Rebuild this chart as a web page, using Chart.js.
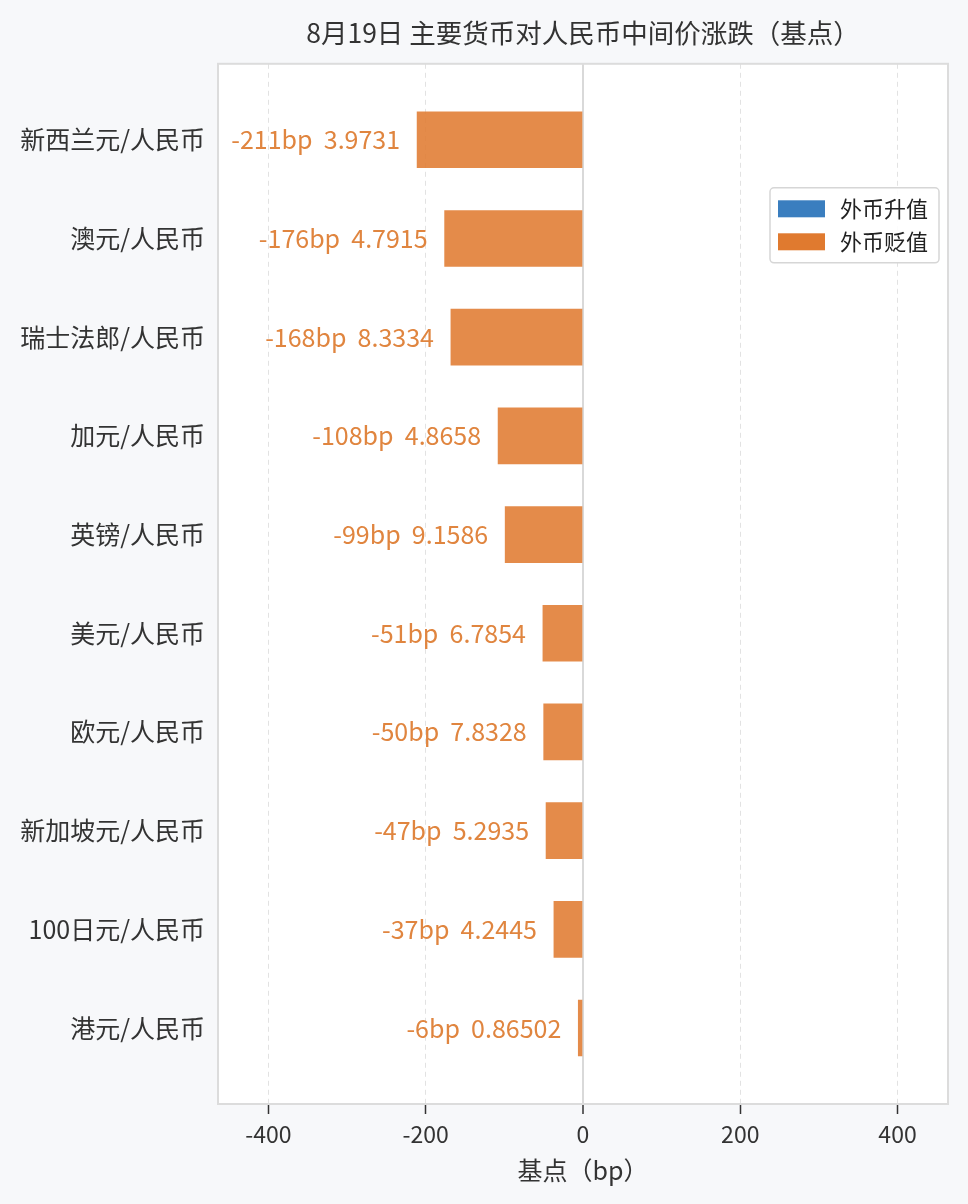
<!DOCTYPE html>
<html>
<head>
<meta charset="utf-8">
<script src="https://cdn.jsdelivr.net/npm/chart.js@4.4.0/dist/chart.umd.min.js"></script>
<style>
  html, body { margin: 0; padding: 0; background: #f7f8fa; }
  #wrap { width: 968px; height: 1204px; }
</style>
</head>
<body>
<div id="wrap"><canvas id="grafico"></canvas></div>
<script>
// 数据
const categorias = ['新西兰元/人民币', '澳元/人民币', '瑞士法郎/人民币', '加元/人民币', '英镑/人民币',
  '美元/人民币', '欧元/人民币', '新加坡元/人民币', '100日元/人民币', '港元/人民币'];
const variacoes = [-211, -176, -168, -108, -99, -51, -50, -47, -37, -6];
const taxas = ['3.9731', '4.7915', '8.3334', '4.8658', '9.1586', '6.7854', '7.8328', '5.2935', '4.2445', '0.86502'];
const ticksX = [-400, -200, 0, 200, 400];

const FONTE = '"Noto Sans CJK SC", "Noto Sans", sans-serif';
const corAzul = '#3a7ebf';
const corLaranja = '#e07a2f';

const subida = variacoes.map((v, i) => ({ x: v, y: i })).filter(p => p.x > 0);
const descida = variacoes.map((v, i) => ({ x: v, y: i })).filter(p => p.x <= 0);
const limite = Math.max(...variacoes.map(Math.abs)) * 2.2;

const fundo = {
  id: 'fundo',
  beforeDraw(chart) {
    const { ctx, chartArea: a } = chart;
    ctx.save();
    ctx.fillStyle = '#f7f8fa';
    ctx.fillRect(0, 0, chart.width, chart.height);
    ctx.fillStyle = '#ffffff';
    ctx.fillRect(a.left, a.top, a.right - a.left, a.bottom - a.top);
    ctx.restore();
  },
  afterDraw(chart) {
    const { ctx, chartArea: a } = chart;
    ctx.save();
    ctx.strokeStyle = '#dcdcdc';
    ctx.lineWidth = 2;
    ctx.strokeRect(a.left, a.top, a.right - a.left, a.bottom - a.top);
    ctx.restore();
  }
};

const rotulos = {
  id: 'rotulos',
  afterDatasetsDraw(chart) {
    const { ctx } = chart;
    ctx.save();
    ctx.font = '25px ' + FONTE;
    ctx.fillStyle = '#e0853f';
    ctx.textBaseline = 'middle';
    chart.data.datasets.forEach((ds, d) => {
      chart.getDatasetMeta(d).data.forEach((bar, j) => {
        const p = ds.data[j];
        const txt = p.x + 'bp  ' + taxas[p.y];
        if (p.x < 0) {
          ctx.textAlign = 'right';
          ctx.fillText(txt, bar.x - 17, bar.y);
        } else {
          ctx.textAlign = 'left';
          ctx.fillText(txt, bar.x + 17, bar.y);
        }
      });
    });
    ctx.restore();
  }
};

const legenda = {
  id: 'legenda',
  afterDraw(chart) {
    const { ctx, chartArea: a } = chart;
    const w = 169, h = 75;
    const x0 = a.right - 9 - w, y0 = a.top + 124;
    ctx.save();
    ctx.beginPath();
    ctx.roundRect(x0, y0, w, h, 4);
    ctx.fillStyle = 'rgba(255,255,255,0.9)';
    ctx.fill();
    ctx.strokeStyle = '#d6d6d6';
    ctx.lineWidth = 1.5;
    ctx.stroke();
    ctx.font = '22px ' + FONTE;
    ctx.textBaseline = 'middle';
    ctx.textAlign = 'left';
    const cores = [corAzul, corLaranja];
    chart.data.datasets.forEach((ds, i) => {
      const yc = y0 + 21 + i * 33;
      ctx.fillStyle = cores[i];
      ctx.fillRect(x0 + 8, yc - 8.5, 47, 17);
      ctx.fillStyle = '#222';
      ctx.fillText(ds.label, x0 + 70, yc);
    });
    ctx.restore();
  }
};

new Chart(document.getElementById('grafico').getContext('2d'), {
  type: 'bar',
  data: {
    datasets: [{
      label: '外币升值',
      data: subida,
      backgroundColor: corAzul,
      barThickness: 56,
      grouped: false
    }, {
      label: '外币贬值',
      data: descida,
      backgroundColor: 'rgba(224, 122, 47, 0.87)',
      barThickness: 56,
      grouped: false
    }]
  },
  options: {
    indexAxis: 'y',
    responsive: true,
    maintainAspectRatio: false,
    animation: false,
    layout: { padding: { left: 0, right: 20, top: 2, bottom: 0 } },
    plugins: {
      legend: { display: false },
      tooltip: { enabled: false },
      title: {
        display: true,
        fullSize: false,
        text: '8月19日 主要货币对人民币中间价涨跌（基点）',
        color: '#333',
        font: { family: FONTE, size: 26.5, weight: 'normal' },
        padding: { top: 15, bottom: 15 }
      }
    },
    scales: {
      x: {
        type: 'linear',
        position: 'bottom',
        min: -limite,
        max: limite,
        afterBuildTicks: s => { s.ticks = ticksX.map(v => ({ value: v })); },
        afterFit: s => { s.height = 100; },
        ticks: {
          color: '#333',
          font: { family: FONTE, size: 23 },
          padding: 6
        },
        grid: {
          color: c => (c.tick && c.tick.value === 0) ? '#d9d9d9' : '#e2e2e2',
          lineWidth: c => (c.tick && c.tick.value === 0) ? 2 : 1,
          tickColor: '#333',
          tickLength: 10,
          tickWidth: 1.5
        },
        border: {
          display: false,
          dash: c => (c.tick && c.tick.value === 0) ? [] : [5, 4]
        },
        title: {
          display: true,
          text: '基点（bp）',
          color: '#333',
          font: { family: FONTE, size: 25 },
          padding: { top: 4, bottom: 19 }
        }
      },
      y: {
        type: 'linear',
        offset: false,
        reverse: true,
        min: -0.77,
        max: categorias.length - 1 + 0.77,
        afterBuildTicks: s => { s.ticks = categorias.map((c, i) => ({ value: i })); },
        afterFit: s => { s.width = 218; },
        ticks: {
          color: '#333',
          font: { family: FONTE, size: 25 },
          padding: 13,
          callback: v => categorias[v]
        },
        grid: { display: false, drawTicks: false, offset: false },
        border: { display: false }
      }
    }
  },
  plugins: [fundo, rotulos, legenda]
});
</script>
</body>
</html>
